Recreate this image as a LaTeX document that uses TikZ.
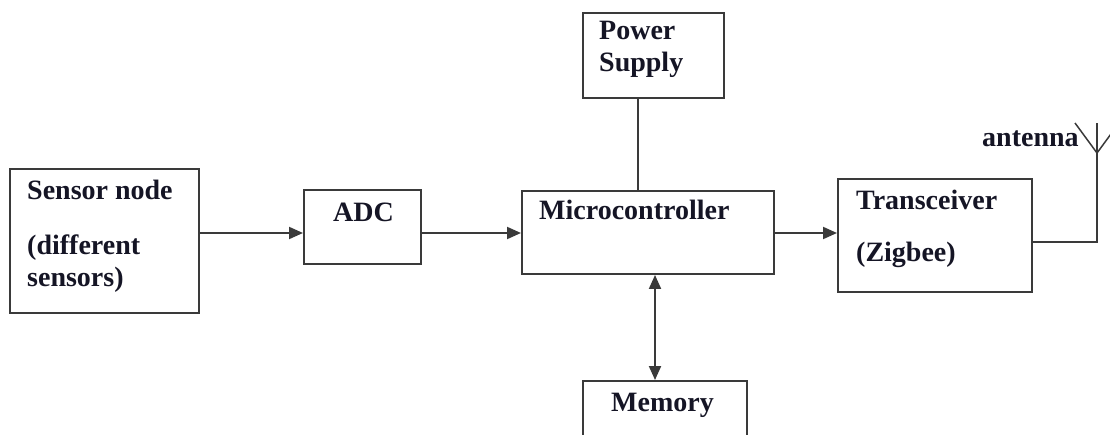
\documentclass[tikz,border=0pt]{standalone}
\usepackage{fontspec}
\setmainfont{Liberation Serif}
\usetikzlibrary{arrows.meta}
\definecolor{linec}{HTML}{3A3A3A}
\definecolor{textc}{HTML}{151525}
\tikzset{
  blk/.style={draw=linec, line width=2pt, inner sep=0pt, anchor=north west},
  lbl/.style={anchor=base west, inner sep=0pt, text=textc, font=\fontsize{28}{32}\selectfont\bfseries},
  conn/.style={draw=linec, line width=2pt},
  arr/.style={conn, -{Triangle[length=14pt,width=12pt]}},
}
\begin{document}
\begin{tikzpicture}[x=1pt,y=-1pt]
\useasboundingbox (0,0) rectangle (1110,435);
\fill[white] (0,0) rectangle (1110,435);
% boxes
\node[blk, minimum width=189pt, minimum height=144pt] (sensor) at (9,168) {};
\node[blk, minimum width=117pt, minimum height=74pt] (adc) at (303,189) {};
\node[blk, minimum width=252pt, minimum height=83pt] (mc) at (521,190) {};
\node[blk, minimum width=141pt, minimum height=85pt] (ps) at (582,12) {};
\node[blk, minimum width=164pt, minimum height=70pt] (mem) at (582,380) {};
\node[blk, minimum width=194pt, minimum height=113pt] (tr) at (837,178) {};
% labels
\node[lbl] (t1) at (27,200) {Sensor node};
\node[lbl] (t2) at (27,255) {(different};
\node[lbl] (t3) at (27,287) {sensors)};
\node[lbl] (t4) at (333,222) {ADC};
\node[lbl] (t5) at (539,220) {Microcontroller};
\node[lbl] (t6) at (599,40) {Power};
\node[lbl] (t7) at (599,72) {Supply};
\node[lbl] (t8) at (611,411) {Memory};
\node[lbl] (t9) at (856,210) {Transceiver};
\node[lbl] (t10) at (856,262) {(Zigbee)};
\node[lbl] (t11) at (982,147) {antenna};
% helper coordinates
\coordinate (ya) at (0,233);
\coordinate (yb) at (0,242);
\coordinate (xp) at (638,0);
\coordinate (xm) at (655,0);
\coordinate (ant) at (1097,153);
\coordinate (antl) at (1075,123);
\coordinate (antr) at (1119,123);
\coordinate (antt) at (1097,123);
% connectors
\draw[arr] (sensor.east |- ya) -- (adc.west |- ya);
\draw[arr] (adc.east |- ya) -- (mc.west |- ya);
\draw[arr] (mc.east |- ya) -- (tr.west |- ya);
\draw[conn] (ps.south -| xp) -- (mc.north -| xp);
\draw[conn, {Triangle[length=14pt,width=12pt]}-{Triangle[length=14pt,width=12pt]}] (mc.south -| xm) -- (mem.north -| xm);
\draw[conn] (tr.east |- yb) -| (ant);
\draw[conn, line width=1.5pt] (antl) -- (ant) -- (antr);
\draw[conn, line width=1.5pt] (ant) -- (antt);
\end{tikzpicture}
\end{document}
